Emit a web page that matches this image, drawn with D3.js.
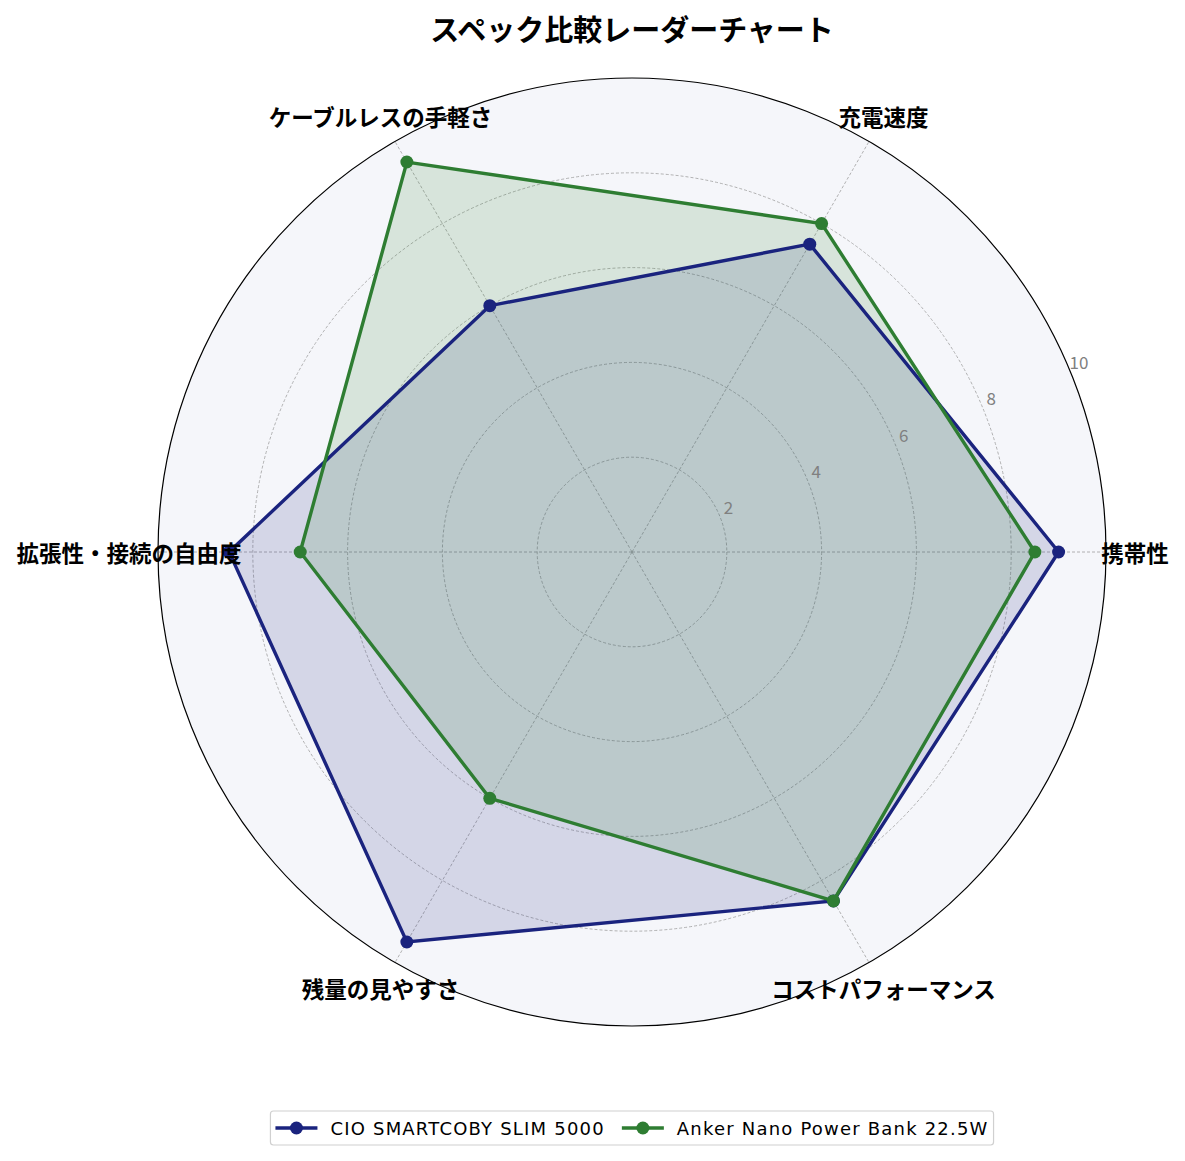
<!DOCTYPE html>
<html>
<head>
<meta charset="utf-8">
<script src="https://cdn.jsdelivr.net/npm/d3@7"></script>
<style>
  body { margin: 0; background: #fff; }
  text { font-family: "Noto Sans CJK JP", "Noto Sans", sans-serif; }
</style>
</head>
<body>
<div id="chart"></div>
<script>
// Categories (axes), counterclockwise from the right
const categories = ["携帯性", "充電速度", "ケーブルレスの手軽さ", "拡張性・接続の自由度", "残量の見やすさ", "コストパフォーマンス"];

// Series values
const seriesNames = ["CIO SMARTCOBY SLIM 5000", "Anker Nano Power Bank 22.5W"];
const cioValues = [9.0, 7.5, 6.0, 8.5, 9.5, 8.5];
const ankerValues = [8.5, 8.0, 9.5, 7.0, 6.0, 8.5];
const seriesColors = ["#1a237e", "#2e7d32"];

// Radial tick labels
const rTicks = [2, 4, 6, 8, 10];

const width = 1185, height = 1161;
const cx = 632, cy = 552, R = 474;

const svg = d3.select("#chart").append("svg")
  .attr("width", width)
  .attr("height", height);

const rScale = d3.scaleLinear().domain([0, 10]).range([0, R]);
// matplotlib angle (ccw from east) -> d3 radial angle (cw from north)
const theta = i => (i / categories.length) * 2 * Math.PI;
const d3Angle = i => Math.PI / 2 - theta(i);

const g = svg.append("g").attr("transform", `translate(${cx},${cy})`);

// Background of polar area
g.append("circle").attr("r", R).attr("fill", "#f5f6fa");

// Grid circles
g.selectAll(".grid-circle")
  .data(rTicks.filter(d => d < 10))
  .enter()
  .append("circle")
  .attr("class", "grid-circle")
  .attr("r", d => rScale(d))
  .attr("fill", "none")
  .attr("stroke", "#a0a0a0")
  .attr("stroke-width", 0.8)
  .attr("stroke-dasharray", "3,2");

// Spokes
g.selectAll(".spoke")
  .data(categories)
  .enter()
  .append("line")
  .attr("class", "spoke")
  .attr("x1", 0).attr("y1", 0)
  .attr("x2", (d, i) => rScale(10) * Math.cos(theta(i)))
  .attr("y2", (d, i) => -rScale(10) * Math.sin(theta(i)))
  .attr("stroke", "#a0a0a0")
  .attr("stroke-width", 0.8)
  .attr("stroke-dasharray", "3,2");

// Series polygons
const series = [cioValues, ankerValues];
const radial = d3.lineRadial()
  .angle((d, i) => d3Angle(i))
  .radius(d => rScale(d))
  .curve(d3.curveLinearClosed);

series.forEach((vals, s) => {
  g.append("path")
    .attr("d", radial(vals))
    .attr("fill", seriesColors[s])
    .attr("fill-opacity", 0.15)
    .attr("stroke", "none");
});

series.forEach((vals, s) => {
  g.append("path")
    .attr("d", radial(vals))
    .attr("fill", "none")
    .attr("stroke", seriesColors[s])
    .attr("stroke-width", 3.4)
    .attr("stroke-linejoin", "miter");

  g.selectAll(".pt" + s)
    .data(vals)
    .enter()
    .append("circle")
    .attr("cx", (d, i) => rScale(d) * Math.cos(theta(i)))
    .attr("cy", (d, i) => -rScale(d) * Math.sin(theta(i)))
    .attr("r", 6.5)
    .attr("fill", seriesColors[s]);
});

// Outer frame
g.append("circle").attr("r", R)
  .attr("fill", "none")
  .attr("stroke", "#000")
  .attr("stroke-width", 1.2);

// Radial tick labels at 22.5 degrees
const labelAngle = 22.5 * Math.PI / 180;
g.selectAll(".rtick")
  .data(rTicks)
  .enter()
  .append("text")
  .attr("class", "rtick")
  .attr("x", d => rScale(d) * Math.cos(labelAngle) + 9)
  .attr("y", d => -rScale(d) * Math.sin(labelAngle) - 9)
  .attr("text-anchor", "middle")
  .attr("dominant-baseline", "central")
  .attr("fill", "#808080")
  .style("font-size", "17px")
  .text(d => d);

// Category labels
g.selectAll(".cat")
  .data(categories)
  .enter()
  .append("text")
  .attr("class", "cat")
  .attr("x", (d, i) => 503 * Math.cos(theta(i)))
  .attr("y", (d, i) => -503 * Math.sin(theta(i)))
  .attr("text-anchor", "middle")
  .attr("dominant-baseline", "central")
  .attr("fill", "#000")
  .style("font-size", "22.5px")
  .style("font-weight", "bold")
  .text(d => d);

// Title
svg.append("text")
  .attr("x", cx)
  .attr("y", 28)
  .attr("text-anchor", "middle")
  .attr("dominant-baseline", "central")
  .style("font-size", "29px")
  .style("font-weight", "bold")
  .text("スペック比較レーダーチャート");

// Legend
const legend = svg.append("g");
const legendBox = legend.append("rect")
  .attr("fill", "#fff")
  .attr("stroke", "#d0d0d0")
  .attr("stroke-width", 1.2)
  .attr("rx", 3);

const ly = 1128;
let lx = 0;
seriesNames.forEach((name, s) => {
  const item = legend.append("g");
  item.append("line")
    .attr("x1", lx).attr("x2", lx + 42)
    .attr("y1", ly).attr("y2", ly)
    .attr("stroke", seriesColors[s])
    .attr("stroke-width", 3.4);
  item.append("circle")
    .attr("cx", lx + 21).attr("cy", ly).attr("r", 6.5)
    .attr("fill", seriesColors[s]);
  const t = item.append("text")
    .attr("x", lx + 55)
    .attr("y", ly)
    .attr("dominant-baseline", "central")
    .style("font-family", "'DejaVu Sans', sans-serif")
    .style("font-size", "18px")
    .style("letter-spacing", "1.2px")
    .attr("fill", "#000")
    .text(name);
  lx += 55 + t.node().getComputedTextLength() + 17;
});
const totalW = lx - 17;
const startX = cx - totalW / 2;
legend.selectAll("g").attr("transform", `translate(${startX},0)`);
legendBox
  .attr("x", startX - 5)
  .attr("y", 1111)
  .attr("width", totalW + 10)
  .attr("height", 34);
</script>
</body>
</html>
